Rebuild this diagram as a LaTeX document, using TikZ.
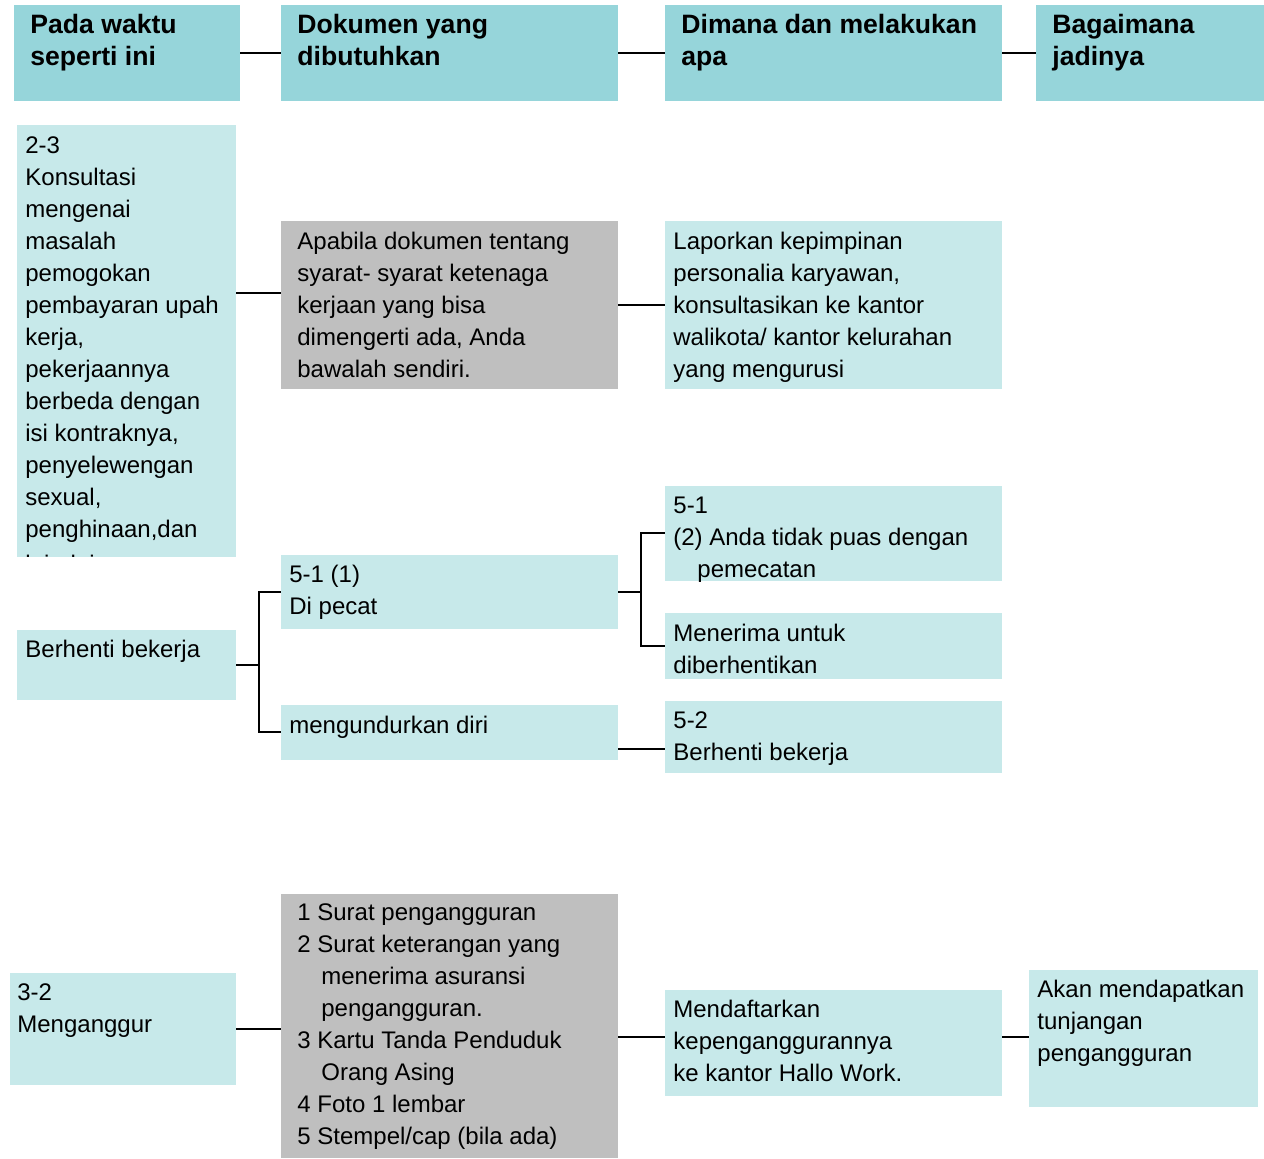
\documentclass[tikz,border=0pt]{standalone}
\usepackage{fontspec}
\setmainfont{Liberation Sans}
\usetikzlibrary{fit}
\definecolor{headc}{HTML}{96D5DA}
\definecolor{lightc}{HTML}{C7E9EA}
\definecolor{grayc}{HTML}{BFBFBF}
\newcommand\fst{\rule{0pt}{12pt}}
\newcommand\ind{\hspace*{12pt}}
\begin{document}
\begin{tikzpicture}[x=0.5pt,y=-0.5pt,
  headbox/.style={fill=headc, draw=none, inner sep=0pt, outer sep=0pt},
  lightbox/.style={fill=lightc, draw=none, inner sep=0pt, outer sep=0pt},
  graybox/.style={fill=grayc, draw=none, inner sep=0pt, outer sep=0pt},
  headtxt/.style={anchor=north west, inner sep=0pt, align=left, font=\fontsize{13.3}{16}\selectfont\bfseries},
  txt/.style={anchor=north west, inner sep=0pt, align=left, font=\fontsize{12}{16}\selectfont},
  conn/.style={draw=black, line width=1pt}]
\useasboundingbox (0,0) rectangle (1264,1159);
% header boxes
\node[headbox, fit={(14,5) (240,101)}] (h1) {};
\node[headbox, fit={(281,5) (618,101)}] (h2) {};
\node[headbox, fit={(665,5) (1002,101)}] (h3) {};
\node[headbox, fit={(1036,5) (1264,101)}] (h4) {};
% body boxes
\node[lightbox, fit={(17,125) (236,557)}] (k) {};
\node[graybox, fit={(281,221) (618,389)}] (g1) {};
\node[lightbox, fit={(665,221) (1002,389)}] (lap) {};
\node[lightbox, fit={(665,486) (1002,581)}] (r1) {};
\node[lightbox, fit={(281,555) (618,629)}] (p1) {};
\node[lightbox, fit={(665,613) (1002,679)}] (r2) {};
\node[lightbox, fit={(17,630) (236,700)}] (b) {};
\node[lightbox, fit={(665,701) (1002,773)}] (r3) {};
\node[lightbox, fit={(281,705) (618,760)}] (m) {};
\node[graybox, fit={(281,894) (618,1158)}] (g2) {};
\node[lightbox, fit={(10,973) (236,1085)}] (u) {};
\node[lightbox, fit={(665,990) (1002,1096)}] (d) {};
\node[lightbox, fit={(1029,970) (1258,1107)}] (a) {};
% connectors
\draw[conn] (h1.east) -- (h2.west);
\draw[conn] (h2.east) -- (h3.west);
\draw[conn] (h3.east) -- (h4.west);
\draw[conn] (k.east |- 0,293) -- (g1.west |- 0,293);
\draw[conn] (g1.east) -- (lap.west);
\coordinate (j1) at (259,665);
\draw[conn] (b.east) -- (j1);
\draw[conn] (j1) |- (p1.west);
\draw[conn] (j1) |- (m.west);
\coordinate (j2) at (641,592);
\draw[conn] (p1.east) -- (j2);
\draw[conn] (j2) |- (r1.west);
\draw[conn] (j2) |- (r2.west);
\draw[conn] (m.east |- 0,749) -- (r3.west |- 0,749);
\draw[conn] (u.east) -- (g2.west |- u.east);
\draw[conn] (g2.east |- 0,1037) -- (d.west |- 0,1037);
\draw[conn] (d.east |- 0,1037) -- (a.west |- 0,1037);
% texts
\node[headtxt] (th1) at (30,9) {\fst Pada waktu\\seperti ini};
\node[headtxt] (th2) at (297,9) {\fst Dokumen yang\\dibutuhkan};
\node[headtxt] (th3) at (681,9) {\fst Dimana dan melakukan\\apa};
\node[headtxt] (th4) at (1052,9) {\fst Bagaimana\\jadinya};
\begin{scope}
\clip (17,125) rectangle (236,557);
\node[txt] (tk) at (25,129) {\fst 2-3\\Konsultasi\\mengenai\\masalah\\pemogokan\\pembayaran upah\\kerja,\\pekerjaannya\\berbeda dengan\\isi kontraknya,\\penyelewengan\\sexual,\\penghinaan,dan\\[1.5pt]lain-lain};
\end{scope}
\node[txt] (tg1) at (297,225) {\fst Apabila dokumen tentang\\syarat- syarat ketenaga\\kerjaan yang bisa\\dimengerti ada, Anda\\bawalah sendiri.};
\node[txt] (tlap) at (673,225) {\fst Laporkan kepimpinan\\personalia karyawan,\\konsultasikan ke kantor\\walikota/ kantor kelurahan\\yang mengurusi};
\node[txt] (tr1) at (673,489) {\fst 5-1\\(2) Anda tidak puas dengan\\\ind pemecatan};
\node[txt] (tp1) at (289,558) {\fst 5-1 (1)\\Di pecat};
\node[txt] (tr2) at (673,617) {\fst Menerima untuk\\diberhentikan};
\node[txt] (tb) at (25,633) {\fst Berhenti bekerja};
\node[txt] (tm) at (289,709) {\fst mengundurkan diri};
\node[txt] (tr3) at (673,704) {\fst 5-2\\Berhenti bekerja};
\node[txt] (tg2) at (297,896) {\fst 1 Surat pengangguran\\2 Surat keterangan yang\\\ind menerima asuransi\\\ind pengangguran.\\3 Kartu Tanda Penduduk\\\ind Orang Asing\\4 Foto 1 lembar\\5 Stempel/cap (bila ada)};
\node[txt] (tu) at (17,976) {\fst 3-2\\Menganggur};
\node[txt] (td) at (673,993) {\fst Mendaftarkan\\kepenganggurannya\\ke kantor Hallo Work.};
\node[txt] (ta) at (1037,973) {\fst Akan mendapatkan\\tunjangan\\pengangguran};
\end{tikzpicture}
\end{document}
